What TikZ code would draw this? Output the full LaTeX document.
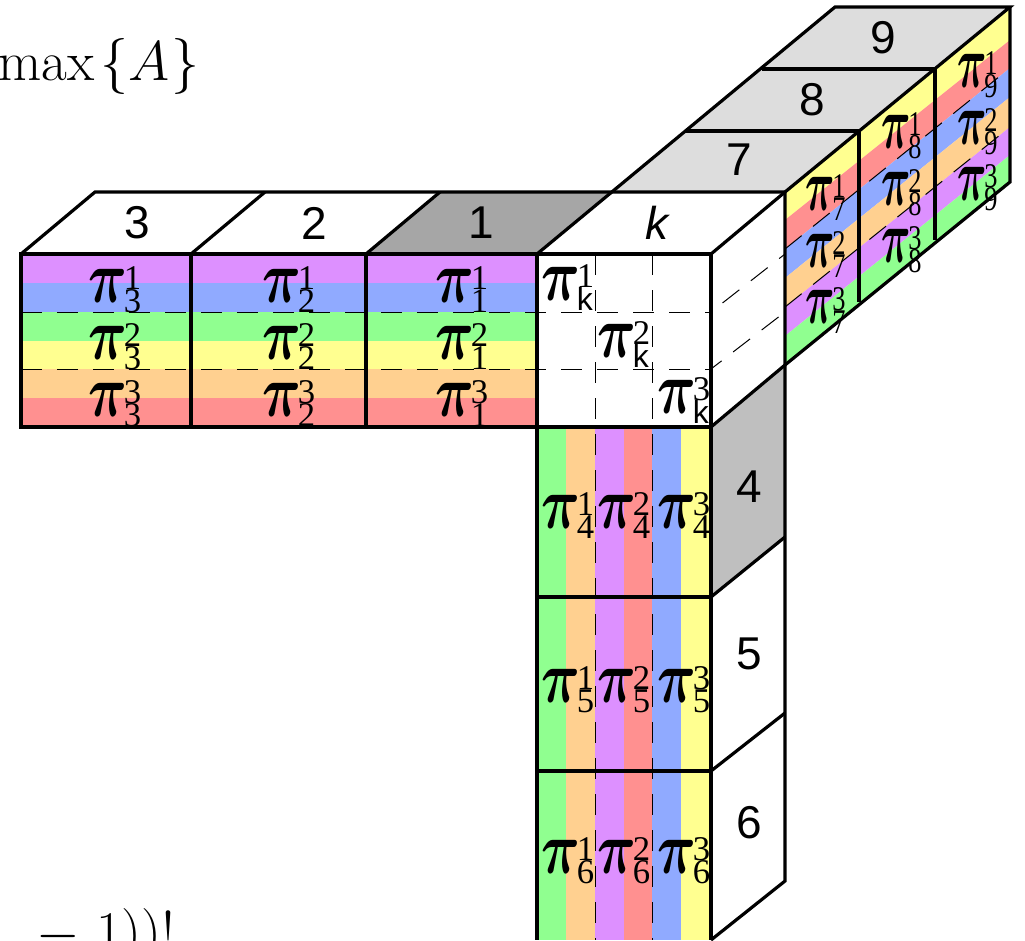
\documentclass[tikz,border=0pt]{standalone}
\usepackage{fix-cm}
\usepackage{fontspec}
\usepackage{bm}
\usepackage{graphicx}
\newfontfamily\arialfont{Liberation Sans}
\newfontfamily\timesfont{Liberation Serif}

\definecolor{bandpurple}{RGB}{221,144,255}
\definecolor{bandblue}{RGB}{144,170,255}
\definecolor{bandgreen}{RGB}{144,255,144}
\definecolor{bandyellow}{RGB}{255,255,144}
\definecolor{bandorange}{RGB}{255,208,144}
\definecolor{bandred}{RGB}{255,144,144}

\newcommand{\pilab}[2]{\scalebox{.72}[1]{\fontsize{56}{56}\selectfont$\bm{\pi}$}\kern-2.5pt\rlap{\raisebox{9.5pt}{\timesfont\fontsize{26}{26}\selectfont #1}}\raisebox{-8pt}{\timesfont\fontsize{26}{26}\selectfont #2}}
\newcommand{\pilabside}[2]{\scalebox{.76}[1]{\pilab{#1}{#2}}}
\newcommand{\subk}{{\arialfont\fontsize{24}{24}\selectfont k}}

\tikzset{every picture/.style={line width=0.75pt},
	edge/.style={line width=2.4pt,line join=miter},
	cut/.style={line width=0.75pt,dash pattern={on 16pt off 11pt}},
	pilabel/.style={anchor=base west,inner sep=0pt},
	numlabel/.style={inner sep=0pt,font=\arialfont\fontsize{34.5}{34.5}\selectfont}}

\begin{document}
\begin{tikzpicture}[x=0.75pt,y=0.75pt,yscale=-1,xscale=1]
	\path [use as bounding box,clip] (0,0) rectangle (1025,940);

	%Top faces
	\fill [color={rgb, 255:red, 166; green, 166; blue, 166 }] (366,254) -- (440,192) -- (610,192) -- (537,254) -- cycle ;
	\fill [color={rgb, 255:red, 221; green, 221; blue, 221 }] (610,192) -- (835,7) -- (1010,7) -- (785,192) -- cycle ;
	%Side face of 4
	\fill [color={rgb, 255:red, 191; green, 191; blue, 191 }] (711,427) -- (785,365) -- (785,537) -- (711,597) -- cycle ;

	%Bands of 3, 2, 1
	\fill [bandpurple] (21,254) rectangle (537,283) ;
	\fill [bandblue] (21,283) rectangle (537,312) ;
	\fill [bandgreen] (21,312) rectangle (537,341) ;
	\fill [bandyellow] (21,341) rectangle (537,369) ;
	\fill [bandorange] (21,369) rectangle (537,398) ;
	\fill [bandred] (21,398) rectangle (537,427) ;
	%Bands of 4, 5, 6
	\fill [bandgreen] (537,427) rectangle (566,940) ;
	\fill [bandorange] (566,427) rectangle (595,940) ;
	\fill [bandpurple] (595,427) rectangle (624,940) ;
	\fill [bandred] (624,427) rectangle (652,940) ;
	\fill [bandblue] (652,427) rectangle (681,940) ;
	\fill [bandyellow] (681,427) rectangle (711,940) ;
	%Bands of 7, 8, 9
	\fill [bandyellow] (785,192) -- (1010,8) -- (1010,40) -- (785,220) -- cycle ;
	\fill [bandred] (785,220) -- (1010,40) -- (1010,68) -- (785,249) -- cycle ;
	\fill [bandblue] (785,249) -- (1010,68) -- (1010,97) -- (785,278) -- cycle ;
	\fill [bandorange] (785,278) -- (1010,97) -- (1010,127) -- (785,307) -- cycle ;
	\fill [bandpurple] (785,307) -- (1010,127) -- (1010,155) -- (785,336) -- cycle ;
	\fill [bandgreen] (785,336) -- (1010,155) -- (1010,183) -- (785,365) -- cycle ;

	%Dashed lines
	\draw [cut] (21,312) -- (711,312) ;
	\draw [cut] (21,369) -- (711,369) ;
	\draw [cut] (595,254) -- (595,940) ;
	\draw [cut] (652,254) -- (652,940) ;
	\draw [cut,dash phase=16pt] (711,312) -- (785,254) ;
	\draw [cut,dash phase=6pt] (711,369) -- (785,312) ;
	\draw [cut] (785,249) -- (1010,68) ;
	\draw [cut] (785,307) -- (1010,127) ;

	%Front edges
	\draw [edge] (21,254) rectangle (711,427) ;
	\draw [edge] (191,254) -- (191,427) ;
	\draw [edge] (366,254) -- (366,427) ;
	\draw [edge] (537,254) -- (537,940) ;
	\draw [edge] (711,254) -- (711,940) ;
	\draw [edge] (537,597) -- (711,597) ;
	\draw [edge] (537,771) -- (711,771) ;
	%Top edges
	\draw [edge] (21,254) -- (95,192) -- (785,192) ;
	\draw [edge] (191,254) -- (265,192) ;
	\draw [edge] (366,254) -- (440,192) ;
	\draw [edge] (537,254) -- (835,7) -- (1010,7) -- (785,192) -- (711,254) ;
	\draw [edge] (686,131) -- (859,131) ;
	\draw [edge] (762,69) -- (935,69) ;
	%Side edges
	\draw [edge] (785,192) -- (785,881) -- (711,940) ;
	\draw [edge] (711,427) -- (785,365) -- (1010,182) -- (1010,7) ;
	\draw [edge] (859,131) -- (859,302) ;
	\draw [edge] (935,69) -- (935,240) ;
	\draw [edge] (711,597) -- (785,537) ;
	\draw [edge] (711,771) -- (785,713) ;

	% Text Node
	\node (num3) [numlabel] at (137,223) {3};
	\node (num2) [numlabel] at (314,223) {2};
	\node (num1) [numlabel] at (481,223) {1};
	\node (numk) [numlabel] at (657,223) {\itshape k};
	\node (num7) [numlabel] at (739,160) {7};
	\node (num8) [numlabel] at (812,100) {8};
	\node (num9) [numlabel] at (883,38) {9};
	\node (num4) [numlabel] at (749,487) {4};
	\node (num5) [numlabel] at (749,654) {5};
	\node (num6) [numlabel] at (749,823) {6};

	% Text Node
	\node (p31) [pilabel] at (88,302) {\pilab{1}{3}};
	\node (p32) [pilabel] at (88,359) {\pilab{2}{3}};
	\node (p33) [pilabel] at (88,416) {\pilab{3}{3}};
	\node (p21) [pilabel] at (262,302) {\pilab{1}{2}};
	\node (p22) [pilabel] at (262,359) {\pilab{2}{2}};
	\node (p23) [pilabel] at (262,416) {\pilab{3}{2}};
	\node (p11) [pilabel] at (435,302) {\pilab{1}{1}};
	\node (p12) [pilabel] at (435,359) {\pilab{2}{1}};
	\node (p13) [pilabel] at (435,416) {\pilab{3}{1}};
	% Text Node
	\node (pk1) [pilabel] at (541,300) {\pilab{1}{\subk}};
	\node (pk2) [pilabel] at (597,357) {\pilab{2}{\subk}};
	\node (pk3) [pilabel] at (657,413) {\pilab{3}{\subk}};
	% Text Node
	\node (p41) [pilabel] at (541,528) {\pilab{1}{4}};
	\node (p42) [pilabel] at (597,528) {\pilab{2}{4}};
	\node (p43) [pilabel] at (657,528) {\pilab{3}{4}};
	\node (p51) [pilabel] at (541,702) {\pilab{1}{5}};
	\node (p52) [pilabel] at (597,702) {\pilab{2}{5}};
	\node (p53) [pilabel] at (657,702) {\pilab{3}{5}};
	\node (p61) [pilabel] at (541,873) {\pilab{1}{6}};
	\node (p62) [pilabel] at (597,873) {\pilab{2}{6}};
	\node (p63) [pilabel] at (657,873) {\pilab{3}{6}};
	% Text Node
	\node (p71) [pilabel] at (805,210) {\pilabside{1}{7}};
	\node (p72) [pilabel] at (805,267) {\pilabside{2}{7}};
	\node (p73) [pilabel] at (805,323) {\pilabside{3}{7}};
	\node (p81) [pilabel] at (881,148) {\pilabside{1}{8}};
	\node (p82) [pilabel] at (881,205) {\pilabside{2}{8}};
	\node (p83) [pilabel] at (881,262) {\pilabside{3}{8}};
	\node (p91) [pilabel] at (957,87) {\pilabside{1}{9}};
	\node (p92) [pilabel] at (957,144) {\pilabside{2}{9}};
	\node (p93) [pilabel] at (957,200) {\pilabside{3}{9}};

	% Text Node
	\node (maxa) [anchor=base east,inner sep=0pt] at (200,80) {\fontsize{42}{42}\selectfont $\max\mkern2mu\{A\mkern.5mu\}$};
	\node (fact) [anchor=base west,inner sep=0pt] at (24,950) {\fontsize{42}{42}\selectfont ${}-\mkern1mu1))!$};
\end{tikzpicture}
\end{document}
